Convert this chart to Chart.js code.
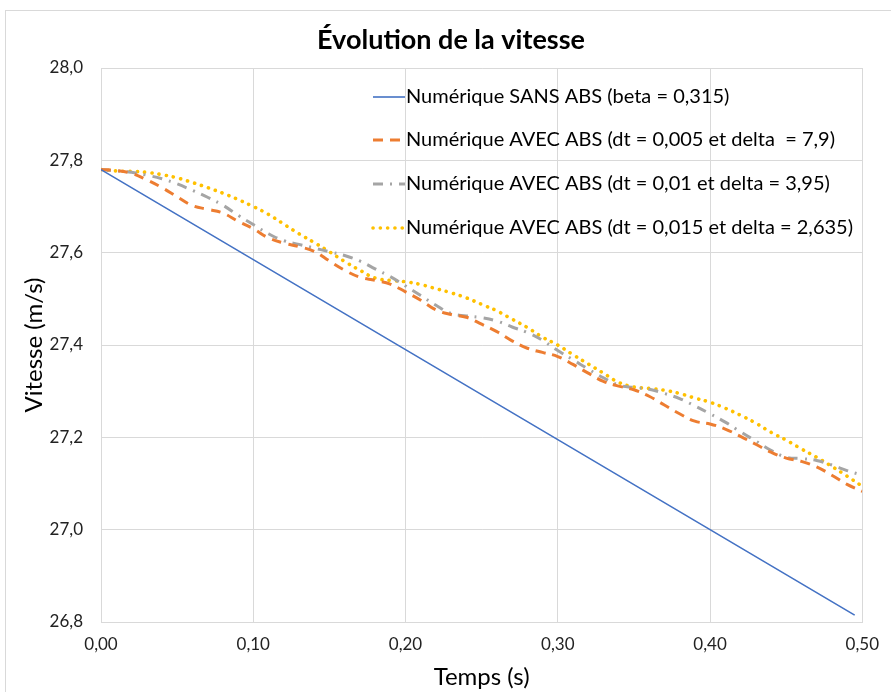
<!DOCTYPE html>
<html>
<head>
<meta charset="utf-8">
<script src="https://cdn.jsdelivr.net/npm/chart.js@4.4.0/dist/chart.umd.min.js"></script>
<style>
  html,body{margin:0;padding:0;background:#fff;overflow:hidden;}
  #wrap{position:relative;width:891px;height:692px;}
  #frame{position:absolute;left:5px;top:10px;width:900px;height:700px;border:1px solid #d9d9d9;}
  canvas{position:absolute;left:0;top:0;}
</style>
</head>
<body>
<div id="wrap"><div id="frame"></div><canvas id="c" width="891" height="692"></canvas></div>
<script>
// temps (s), pas de 0,01
const temps = [0.00,0.01,0.02,0.03,0.04,0.05,0.06,0.07,0.08,0.09,
               0.10,0.11,0.12,0.13,0.14,0.15,0.16,0.17,0.18,0.19,
               0.20,0.21,0.22,0.23,0.24,0.25,0.26,0.27,0.28,0.29,
               0.30,0.31,0.32,0.33,0.34,0.35,0.36,0.37,0.38,0.39,
               0.40,0.41,0.42,0.43,0.44,0.45,0.46,0.47,0.48,0.49,0.50];

// SANS ABS : droite
const tempsSans = [0.00,0.10,0.20,0.30,0.40,0.495];
const vSans     = [27.78,27.585,27.39,27.195,27.00,26.815];

// AVEC ABS dt = 0,005
const vDt005 = [27.780,27.778,27.772,27.758,27.741,27.721,27.702,27.694,27.686,27.668,
                27.652,27.632,27.621,27.613,27.603,27.582,27.562,27.547,27.540,27.532,
                27.515,27.497,27.476,27.466,27.460,27.445,27.429,27.409,27.393,27.384,
                27.375,27.358,27.339,27.321,27.311,27.303,27.289,27.270,27.251,27.235,
                27.229,27.218,27.202,27.185,27.168,27.155,27.148,27.136,27.118,27.098,27.083];

// AVEC ABS dt = 0,01
const vDt01 = [27.780,27.777,27.774,27.768,27.760,27.749,27.735,27.720,27.703,27.681,
               27.661,27.641,27.626,27.618,27.610,27.602,27.594,27.582,27.565,27.548,
               27.528,27.507,27.486,27.468,27.463,27.459,27.452,27.439,27.427,27.410,
               27.388,27.368,27.348,27.329,27.313,27.308,27.304,27.295,27.284,27.268,
               27.251,27.233,27.212,27.192,27.172,27.157,27.154,27.150,27.140,27.128,27.118];

// AVEC ABS dt = 0,015
const vDt015 = [27.780,27.777,27.776,27.774,27.769,27.762,27.752,27.741,27.729,27.715,
                27.700,27.683,27.662,27.641,27.622,27.602,27.581,27.562,27.545,27.540,
                27.537,27.531,27.522,27.513,27.502,27.488,27.474,27.456,27.438,27.417,
                27.400,27.379,27.359,27.339,27.319,27.309,27.306,27.302,27.295,27.285,
                27.276,27.263,27.248,27.231,27.211,27.194,27.175,27.157,27.137,27.116,27.094];

const labels = [
  'Numérique SANS ABS (beta = 0,315)',
  'Numérique AVEC ABS (dt = 0,005 et delta  = 7,9)',
  'Numérique AVEC ABS (dt = 0,01 et delta = 3,95)',
  'Numérique AVEC ABS (dt = 0,015 et delta = 2,635)'
];

const FONT = 'Lato, "Open Sans", sans-serif';
const pts = (xs, ys) => xs.map((x,i)=>({x:x, y:ys[i]}));
const comma = (v,d) => v.toFixed(d).replace('.', ',');

// titre + légende dessinés par-dessus la zone de tracé
const overlay = {
  id:'overlay',
  afterDraw(chart){
    const ctx = chart.ctx;
    ctx.save();
    ctx.fillStyle = '#000';
    ctx.font = 'bold 27px ' + FONT;
    ctx.textAlign = 'center';
    ctx.textBaseline = 'middle';
    ctx.fillText('Évolution de la vitesse', 451, 40);

    const rows = [97, 140, 184, 228];
    ctx.font = '20px ' + FONT;
    ctx.textAlign = 'left';
    chart.data.datasets.forEach((ds,i)=>{
      ctx.beginPath();
      ctx.setLineDash(ds.borderDash || []);
      ctx.lineCap = ds.borderCapStyle || 'butt';
      ctx.lineWidth = ds.borderWidth;
      ctx.strokeStyle = ds.borderColor;
      ctx.moveTo(373, rows[i]);
      ctx.lineTo(405, rows[i]);
      ctx.stroke();
      ctx.setLineDash([]);
      ctx.fillStyle = '#000';
      ctx.fillText(ds.label, 406, rows[i]);
    });
    ctx.restore();
  }
};

new Chart(document.getElementById('c'), {
  type:'line',
  data:{
    datasets:[
      {label:labels[0], data:pts(tempsSans, vSans), borderColor:'#4472C4', borderWidth:1.6,
       pointRadius:0, tension:0},
      {label:labels[1], data:pts(temps, vDt005), borderColor:'#ED7D31', borderWidth:3,
       borderDash:[10,7], pointRadius:0, tension:0.4},
      {label:labels[2], data:pts(temps, vDt01), borderColor:'#A5A5A5', borderWidth:3,
       borderDash:[10,7,2,7], pointRadius:0, tension:0.4},
      {label:labels[3], data:pts(temps, vDt015), borderColor:'#FFC000', borderWidth:3.6,
       borderDash:[0.1,7.2], borderCapStyle:'round', pointRadius:0, tension:0.4}
    ]
  },
  options:{
    responsive:false,
    animation:false,
    devicePixelRatio:1,
    layout:{padding:{top:68, right:20, left:0, bottom:0}},
    plugins:{legend:{display:false}, tooltip:{enabled:false}, title:{display:false}},
    scales:{
      x:{
        type:'linear', min:0, max:0.5,
        afterFit:s=>{ s.height = 70; },
        grid:{color:'#d9d9d9', drawTicks:false},
        border:{color:'#d9d9d9'},
        ticks:{stepSize:0.1, padding:12, color:'#222', font:{family:FONT, size:17},
               callback:v=>comma(v,2)},
        title:{display:true, text:'Temps (s)', color:'#000', font:{family:FONT, size:24},
               padding:{top:4, bottom:0}}
      },
      y:{
        min:26.8, max:28.0,
        afterFit:s=>{ s.width = 101; },
        grid:{color:'#d9d9d9', drawTicks:false},
        border:{color:'#d9d9d9'},
        ticks:{stepSize:0.2, padding:18, color:'#222', font:{family:FONT, size:17},
               callback:v=>comma(v,1)},
        title:{display:true, text:'Vitesse (m/s)', color:'#000', font:{family:FONT, size:24},
               padding:{top:20, bottom:0}}
      }
    }
  },
  plugins:[overlay]
});
</script>
</body>
</html>
